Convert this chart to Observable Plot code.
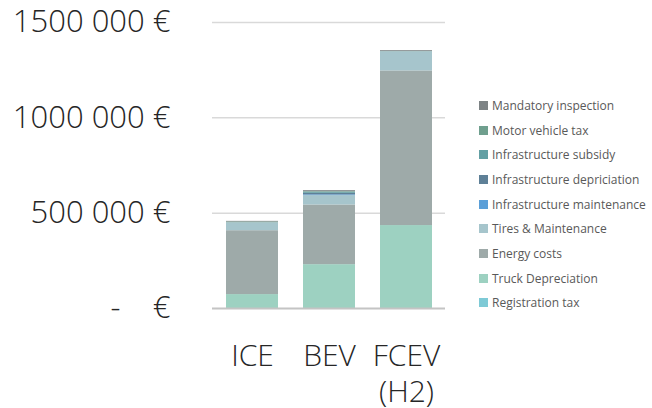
<!DOCTYPE html>
<html>
<head>
<meta charset="utf-8">
<script src="https://cdn.jsdelivr.net/npm/d3@7"></script>
<script src="https://cdn.jsdelivr.net/npm/@observablehq/plot@0.6"></script>
<style>
  html, body { margin: 0; padding: 0; background: #fff; }
  #wrap { position: relative; width: 652px; height: 408px; overflow: hidden; font-family: "Open Sans", sans-serif; }
  #legend { position: absolute; left: 479px; top: 93px; font-size: 12px; color: #595959; }
  #legend .item { display: flex; align-items: center; height: 24.7px; white-space: nowrap; }
  #legend .sw { width: 9px; height: 9px; margin-right: 4px; flex: none; }
</style>
</head>
<body>
<div id="wrap"><div id="legend"></div></div>
<script>
// Categories (x)
const vehicles = ["ICE", "BEV", "FCEV\n(H2)"];

// Cost components, stacked bottom -> top
const components = [
  "Registration tax",
  "Truck Depreciation",
  "Energy costs",
  "Tires & Maintenance",
  "Infrastructure maintenance",
  "Infrastructure depriciation",
  "Infrastructure subsidy",
  "Motor vehicle tax",
  "Mandatory inspection"
];
const componentColors = [
  "#7ecad6", "#9dd1c1", "#9eaaa9", "#a6c5cc", "#5b9fd8",
  "#5e8097", "#63a0a4", "#6f9f8e", "#7d8385"
];

// Series values (EUR) per vehicle: ICE, BEV, FCEV (H2)
const registrationTax     = [0, 0, 0];
const truckDepreciation   = [73000, 230000, 435000];
const energyCosts         = [335000, 313000, 811000];
const tiresMaintenance    = [42000, 49000, 101000];
const infraMaintenance    = [0, 4000, 0];
const infraDepreciation   = [0, 8000, 0];
const infraSubsidy        = [0, 6000, 0];
const motorVehicleTax     = [4000, 3000, 2000];
const mandatoryInspection = [3000, 5000, 4000];

// Y tick values and labels
const yTicks = [0, 500000, 1000000, 1500000];
const yTickLabels = ["-\u00a0\u00a0\u00a0\u00a0\u20ac", "500\u00a0000\u00a0\u20ac", "1000\u00a0000\u00a0\u20ac", "1500\u00a0000\u00a0\u20ac"];

const seriesList = [registrationTax, truckDepreciation, energyCosts, tiresMaintenance,
  infraMaintenance, infraDepreciation, infraSubsidy, motorVehicleTax, mandatoryInspection];

const rows = [];
components.forEach((c, i) => {
  vehicles.forEach((v, j) => rows.push({vehicle: v, component: c, value: seriesList[i][j]}));
});

const chart = Plot.plot({
  width: 652,
  height: 408,
  marginLeft: 212,
  marginRight: 207,
  marginTop: 22,
  marginBottom: 100,
  style: {fontFamily: "Open Sans, sans-serif", background: "white"},
  x: {domain: vehicles, paddingInner: 0.33, paddingOuter: 0.17},
  y: {domain: [0, 1500000]},
  color: {domain: components, range: componentColors},
  marks: [
    Plot.gridY({ticks: yTicks.slice(1), stroke: "#d9d9d9", strokeOpacity: 1, strokeWidth: 1.5}),
    Plot.barY(rows, {x: "vehicle", y: "value", fill: "component", order: components}),
    Plot.ruleY([0], {stroke: "#c4c4c4", strokeWidth: 2}),
    Plot.axisY({ticks: yTicks, tickFormat: (d) => yTickLabels[yTicks.indexOf(d)], tickSize: 0,
      tickPadding: 42, fontSize: 31, fontWeight: 300, fill: "#262626", label: null}),
    Plot.axisX({tickSize: 0, tickPadding: 31, fontSize: 30, fontWeight: 300, fill: "#262626",
      lineHeight: 1.22, label: null})
  ]
});
document.getElementById("wrap").prepend(chart);

// Legend (top item = last component)
const legend = document.getElementById("legend");
components.slice().reverse().forEach((c) => {
  const i = components.indexOf(c);
  const item = document.createElement("div");
  item.className = "item";
  const sw = document.createElement("span");
  sw.className = "sw";
  sw.style.background = componentColors[i];
  const t = document.createElement("span");
  t.textContent = c;
  item.append(sw, t);
  legend.append(item);
});
</script>
</body>
</html>
